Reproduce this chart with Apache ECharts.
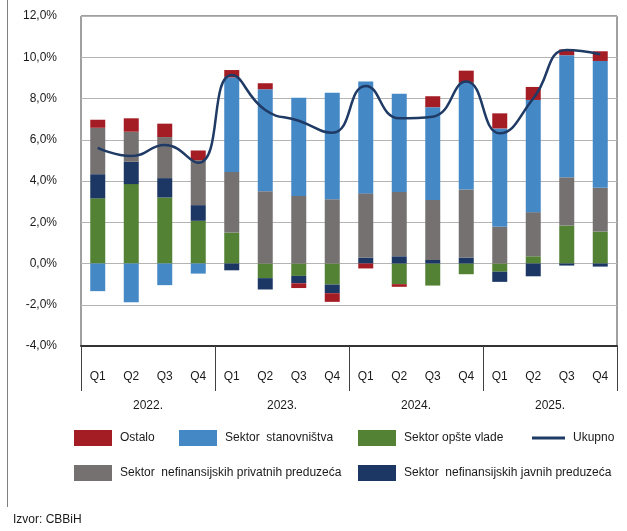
<!DOCTYPE html>
<html>
<head>
<meta charset="utf-8">
<script src="https://cdn.jsdelivr.net/npm/echarts@6/dist/echarts.min.js"></script>
<style>
    html, body { margin: 0; padding: 0; background: #fff; }
    #chart { width: 627px; height: 531px; }
</style>
</head>
<body>
<div id="chart"></div>
<script>
    // podaci (procentni poeni)
    var quarters = ['Q1','Q2','Q3','Q4','Q1','Q2','Q3','Q4','Q1','Q2','Q3','Q4','Q1','Q2','Q3','Q4'];
    var years = ['2022.', '2023.', '2024.', '2025.'];

    var opstaVlada        = [3.16, 3.85, 3.20, 2.07, 1.50, -0.71, -0.60, -1.02, 0.00, -1.00, -1.07, -0.52, -0.40, 0.35, 1.84, 1.55];
    var javnaPreduzeca    = [1.17, 1.08, 0.94, 0.76, -0.33, -0.55, -0.36, -0.42, 0.29, 0.35, 0.17, 0.29, -0.49, -0.62, -0.10, -0.15];
    var privatnaPreduzeca = [2.25, 1.46, 1.99, 2.18, 2.94, 3.50, 3.27, 3.12, 3.11, 3.12, 2.91, 3.30, 1.78, 2.14, 2.34, 2.12];
    var stanovnistvo      = [-1.34, -1.88, -1.05, -0.49, 4.58, 4.95, 4.77, 5.16, 5.42, 4.76, 4.50, 5.18, 4.77, 5.44, 5.92, 6.15];
    var ostalo            = [0.39, 0.65, 0.65, 0.47, 0.36, 0.29, -0.23, -0.42, -0.24, -0.13, 0.53, 0.58, 0.73, 0.63, 0.28, 0.47];
    var ukupno            = [5.61, 5.21, 5.74, 4.88, 9.14, 7.44, 6.92, 6.34, 8.61, 7.04, 7.12, 8.82, 6.31, 8.00, 10.35, 10.15];

    var yMin = -4, yMax = 12, yStep = 2;

    var font = 'Liberation Sans';
    var txt = { fontFamily: font, fontSize: 12, color: '#1a1a1a' };

    function legendItem(name, left, top, w, h, icon) {
        return {
            data: [{ name: name, icon: icon || 'rect' }],
            left: left,
            top: top,
            padding: 0,
            itemWidth: w,
            itemHeight: h,
            selectedMode: false,
            textStyle: { fontFamily: font, fontSize: 12, color: '#1a1a1a', padding: [0, 0, 0, 3] }
        };
    }

    function bar(name, data, color) {
        return {
            name: name,
            type: 'bar',
            stack: 'ukupno',
            barWidth: 15,
            data: data,
            itemStyle: { color: color }
        };
    }

    var myChart = echarts.init(document.getElementById('chart'));
    var option = {
        animation: false,
        title: {
            text: 'Izvor: CBBiH',
            left: 13,
            top: 514,
            padding: 0,
            textStyle: { fontFamily: font, fontSize: 12, fontWeight: 'normal', color: '#1a1a1a' }
        },
        graphic: [{
            type: 'line',
            shape: { x1: 7.5, y1: 0, x2: 7.5, y2: 507 },
            style: { stroke: '#808080', lineWidth: 1 }
        }],
        legend: [
            legendItem('Ostalo', 74, 430, 38, 16),
            legendItem('Sektor  stanovništva', 179, 430, 38, 16),
            legendItem('Sektor opšte vlade', 358, 430, 38, 16),
            legendItem('Ukupno', 532, 432, 33, 3),
            legendItem('Sektor  nefinansijskih privatnih preduzeća', 74, 465, 38, 16),
            legendItem('Sektor  nefinansijskih javnih preduzeća', 358, 465, 38, 16)
        ],
        grid: {
            left: 81,
            right: 10,
            top: 16,
            bottom: 185,
            show: true,
            borderColor: '#404040',
            borderWidth: 1
        },
        xAxis: [
            {
                type: 'category',
                data: quarters,
                axisLine: { show: true, onZero: false, lineStyle: { color: '#333', width: 2 } },
                axisTick: { show: false },
                axisLabel: Object.assign({ interval: 0, margin: 25 }, txt)
            },
            {
                type: 'category',
                data: years,
                position: 'bottom',
                axisLine: { show: false, onZero: false },
                axisTick: { show: true, length: 45, lineStyle: { color: '#404040', width: 1 } },
                axisLabel: Object.assign({ interval: 0, margin: 54 }, txt)
            }
        ],
        yAxis: {
            type: 'value',
            min: yMin,
            max: yMax,
            interval: yStep,
            axisLine: { show: false },
            axisTick: { show: false },
            splitLine: { lineStyle: { color: '#b4b4b4', width: 1 } },
            axisLabel: Object.assign({
                margin: 24,
                formatter: function (v) { return v.toFixed(1).replace('.', ',') + '%'; }
            }, txt)
        },
        series: [
            bar('Sektor opšte vlade', opstaVlada, '#538234'),
            bar('Sektor  nefinansijskih javnih preduzeća', javnaPreduzeca, '#1c3764'),
            bar('Sektor  nefinansijskih privatnih preduzeća', privatnaPreduzeca, '#767171'),
            bar('Sektor  stanovništva', stanovnistvo, '#4588c6'),
            bar('Ostalo', ostalo, '#a51d24'),
            {
                name: 'Ukupno',
                type: 'line',
                smooth: true,
                symbol: 'none',
                data: ukupno,
                z: 5,
                itemStyle: { color: '#1f3a64' },
                lineStyle: { color: '#1f3a64', width: 2.5 }
            }
        ]
    };
    myChart.setOption(option, true);
    window.addEventListener('resize', () => {
        myChart.resize();
    });
</script>
</body>
</html>
